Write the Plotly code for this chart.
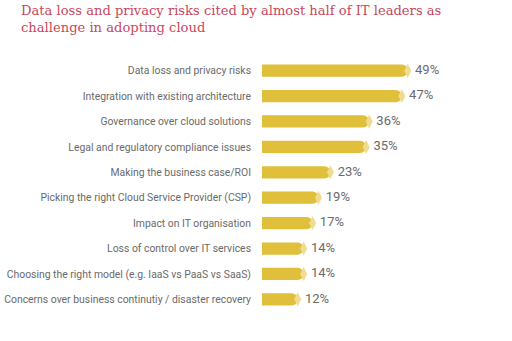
import plotly.graph_objects as go

categories = [
    "Data loss and privacy risks",
    "Integration with existing architecture",
    "Governance over cloud solutions",
    "Legal and regulatory compliance issues",
    "Making the business case/ROI",
    "Picking the right Cloud Service Provider (CSP)",
    "Impact on IT organisation",
    "Loss of control over IT services",
    "Choosing the right model (e.g. IaaS vs PaaS vs SaaS)",
    "Concerns over business continutiy / disaster recovery",
]
values = [49, 47, 36, 35, 23, 19, 17, 14, 14, 12]
value_labels = [f"{v}%" for v in values]

title_lines = ["Data loss and privacy risks cited by almost half of IT leaders as",
               "challenge in adopting cloud"]

bar_color = "#e0bf3a"
tip_color = "#efdc8e"
label_color = "#6a6a6a"
label_font = "Roboto, sans-serif"

fig = go.Figure()
fig.add_trace(go.Bar(
    y=categories, x=values, orientation="h",
    marker=dict(color=bar_color, line=dict(width=0), cornerradius=6),
    width=0.48, hoverinfo="skip",
))
fig.add_trace(go.Scatter(
    y=categories, x=values, mode="markers+text",
    marker=dict(symbol="diamond-tall", size=10, color=tip_color),
    text=value_labels, textposition="middle right",
    textfont=dict(family=label_font, size=13, color=label_color),
    hoverinfo="skip", cliponaxis=False,
))

fig.add_annotation(
    text="<br>".join(title_lines), xref="paper", yref="paper",
    x=(19 - 262) / 238, y=1 + 50 / 268, xanchor="left", yanchor="top",
    align="left", showarrow=False,
    font=dict(family="DejaVu Serif", size=13.1, color="#c6475b"),
)

fig.update_layout(
    width=512, height=341,
    margin=dict(l=262, r=12, t=51, b=22, autoexpand=False),
    paper_bgcolor="white", plot_bgcolor="white",
    showlegend=False,
    xaxis=dict(range=[0, 80], visible=False),
    yaxis=dict(autorange="reversed", showgrid=False, zeroline=False, showline=False,
               automargin=False, ticks="", ticklabelstandoff=10,
               tickfont=dict(family=label_font, size=10.4, color=label_color)),
)

fig.write_html("out.html")
